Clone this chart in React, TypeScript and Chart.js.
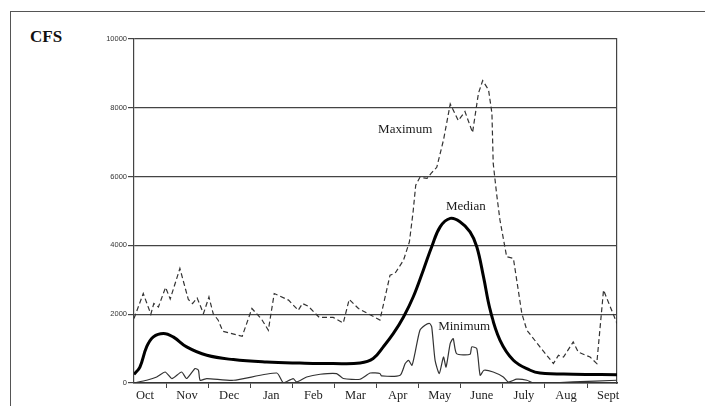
import React, { useEffect, useRef } from 'react';
import { Chart, registerables } from 'chart.js';

Chart.register(...registerables);

// Month labels (water year, October to September)
const MONTHS = ['Oct', 'Nov', 'Dec', 'Jan', 'Feb', 'Mar', 'Apr', 'May', 'June', 'July', 'Aug', 'Sept'];
const MONTH_BOUNDARIES = [1, 2, 3, 4, 5, 6, 7, 8, 9, 10, 11];
const Y_TICKS = [0, 2000, 4000, 6000, 8000, 10000];

// x in months since Oct 1, y in CFS
const maxX = [0.24, 0.46, 0.64, 0.71, 0.82, 0.99, 1.10, 1.33, 1.53, 1.63, 1.74, 1.89, 2.02, 2.12, 2.24, 2.35, 2.81, 3.04, 3.27, 3.43, 3.57, 3.91, 4.14, 4.24, 4.38, 4.64, 4.97, 5.21, 5.35, 5.57, 6.08, 6.32, 6.44, 6.64, 6.78, 6.87, 6.93, 7.03, 7.20, 7.30, 7.43, 7.59, 7.75, 7.94, 8.10, 8.28, 8.42, 8.52, 8.66, 8.74, 8.77, 8.85, 8.93, 9.09, 9.25, 9.45, 9.57, 9.88, 10.20, 10.32, 10.44, 10.67, 10.79, 11.07, 11.23, 11.39, 11.71];
const maxY = [1875, 2600, 2000, 2310, 2210, 2780, 2440, 3330, 2430, 2310, 2470, 2020, 2500, 2020, 1825, 1505, 1360, 2165, 1855, 1535, 2600, 2410, 2115, 2310, 2230, 1905, 1905, 1745, 2430, 2165, 1830, 3135, 3190, 3570, 4100, 5000, 5750, 5980, 5950, 6100, 6270, 7065, 8110, 7630, 7890, 7280, 8425, 8790, 8520, 7840, 6390, 5510, 4740, 3670, 3620, 2020, 1535, 1050, 565, 805, 755, 1195, 900, 755, 565, 2700, 1730];

const medX = [0.24, 0.38, 0.54, 0.70, 0.94, 1.17, 1.49, 1.97, 2.60, 3.39, 4.18, 4.97, 5.61, 5.92, 6.16, 6.40, 6.64, 6.87, 7.11, 7.31, 7.51, 7.75, 7.98, 8.22, 8.38, 8.54, 8.70, 8.93, 9.25, 9.65, 9.88, 10.67, 11.71];
const medY = [250, 465, 1050, 1340, 1440, 1340, 1050, 805, 680, 610, 580, 565, 580, 710, 1050, 1440, 1920, 2500, 3280, 3960, 4540, 4785, 4690, 4395, 3960, 3085, 2115, 1245, 660, 370, 290, 255, 240];

const minX = [0.24, 0.54, 0.78, 0.98, 1.14, 1.37, 1.49, 1.69, 1.77, 1.81, 1.97, 2.60, 3.63, 3.79, 4.02, 4.10, 4.34, 4.66, 5.05, 5.21, 5.61, 5.85, 6.08, 6.12, 6.56, 6.68, 6.76, 6.84, 6.91, 7.03, 7.15, 7.26, 7.31, 7.39, 7.49, 7.59, 7.65, 7.75, 7.82, 7.90, 8.22, 8.26, 8.38, 8.46, 8.55, 8.77, 9.01, 9.13, 9.33, 9.57, 9.72, 10.04, 10.67, 11.71];
const minY = [0, 80, 175, 320, 130, 320, 130, 420, 370, 80, 130, 80, 290, 0, 130, 30, 175, 255, 275, 130, 110, 290, 275, 205, 225, 565, 660, 515, 855, 1535, 1680, 1730, 1630, 660, 275, 755, 465, 1150, 1290, 855, 835, 1050, 1000, 225, 370, 320, 175, 30, 110, 80, 0, 0, 30, 80];

// Curve labels: [text, x (months), y (CFS)]
const LABELS: [string, number, number][] = [
  ['Maximum', 6.68, 7355],
  ['Median', 8.12, 5115],
  ['Minimum', 8.08, 1650],
];

const toPoints = (xs: number[], ys: number[]) => xs.map((x, i) => ({ x, y: ys[i] }));

const labelPlugin = {
  id: 'curveLabels',
  afterDatasetsDraw(chart: any) {
    const { ctx, scales } = chart;
    ctx.save();
    ctx.font = '13px "Liberation Serif"';
    ctx.textAlign = 'center';
    ctx.textBaseline = 'middle';
    for (const [t, x, y] of LABELS) {
      const px = scales.x.getPixelForValue(x);
      const py = scales.y.getPixelForValue(y);
      const w = ctx.measureText(t).width;
      ctx.fillStyle = '#fff';
      ctx.fillRect(px - w / 2 - 1, py - 7, w + 2, 14);
      ctx.fillStyle = '#1a1a1a';
      ctx.fillText(t, px, py);
    }
    ctx.restore();
  },
};

export default function App() {
  const ref = useRef<HTMLCanvasElement>(null);

  useEffect(() => {
    const chart = new Chart(ref.current!, {
      type: 'line',
      data: {
        datasets: [
          {
            label: 'Minimum',
            data: toPoints(minX, minY),
            borderColor: '#333',
            borderWidth: 1.2,
            pointRadius: 0,
            tension: 0.2,
          },
          {
            label: 'Median',
            data: toPoints(medX, medY),
            borderColor: '#000',
            borderWidth: 3,
            pointRadius: 0,
            tension: 0.4,
          },
          {
            label: 'Maximum',
            data: toPoints(maxX, maxY),
            borderColor: '#333',
            borderWidth: 1.2,
            borderDash: [5, 3],
            pointRadius: 0,
            tension: 0,
          },
        ],
      },
      options: {
        responsive: false,
        animation: false,
        devicePixelRatio: 1,
        layout: { padding: { top: 39, left: 0, right: 0, bottom: 0 } },
        plugins: { legend: { display: false }, tooltip: { enabled: false } },
        scales: {
          x: {
            type: 'linear',
            min: 0.24,
            max: 11.71,
            afterBuildTicks: (scale: any) => {
              const t: any[] = [];
              MONTHS.forEach((_, i) => t.push({ value: i + 0.5 }));
              MONTH_BOUNDARIES.forEach((v) => t.push({ value: v }));
              t.sort((a, b) => a.value - b.value);
              scale.ticks = t;
            },
            afterFit: (scale: any) => {
              scale.height = 23;
            },
            ticks: {
              autoSkip: false,
              maxRotation: 0,
              padding: 0,
              color: '#222',
              font: { family: 'Liberation Serif', size: 12.5 },
              callback: (v: any) => {
                const n = Number(v);
                if (Number.isInteger(n)) return '';
                return MONTHS[Math.floor(n)];
              },
            },
            grid: {
              drawOnChartArea: false,
              drawTicks: true,
              tickLength: 5,
              tickColor: (c: any) => (c.tick && Number.isInteger(c.tick.value) ? '#444' : 'rgba(0,0,0,0)'),
            },
            border: { display: true, color: '#333', width: 1.5 },
          },
          y: {
            min: 0,
            max: 10000,
            afterBuildTicks: (scale: any) => {
              scale.ticks = Y_TICKS.map((v) => ({ value: v }));
            },
            afterFit: (scale: any) => {
              scale.width = 134;
            },
            ticks: {
              padding: 1,
              color: '#333',
              font: { family: 'Liberation Sans', size: 7.5 },
              callback: (v: any) => String(v),
            },
            grid: {
              color: '#444',
              lineWidth: 1.2,
              tickLength: 6,
              tickColor: '#444',
            },
            border: { display: true, color: '#444', width: 1.2 },
          },
          y2: {
            position: 'right',
            min: 0,
            max: 10000,
            afterFit: (scale: any) => {
              scale.width = 88;
            },
            ticks: { display: false },
            grid: { drawOnChartArea: false, drawTicks: false },
            border: { display: true, color: '#444', width: 1.2 },
          },
        },
      },
      plugins: [labelPlugin],
    } as any);
    return () => chart.destroy();
  }, []);

  return (
    <div style={{ position: 'fixed', left: 0, top: 0, width: 705, height: 406, background: '#fff', overflow: 'hidden' }}>
      <div
        style={{
          position: 'absolute',
          left: 10,
          top: 11,
          width: 800,
          height: 500,
          borderTop: '1.5px solid #555',
          borderLeft: '1.5px solid #555',
        }}
      />
      <div
        style={{
          position: 'absolute',
          left: 30,
          top: 27,
          font: 'bold 17px "Liberation Serif"',
          color: '#111',
          lineHeight: '20px',
        }}
      >
        CFS
      </div>
      <canvas ref={ref} width={705} height={406} style={{ position: 'absolute', left: 0, top: 0 }} />
    </div>
  );
}
